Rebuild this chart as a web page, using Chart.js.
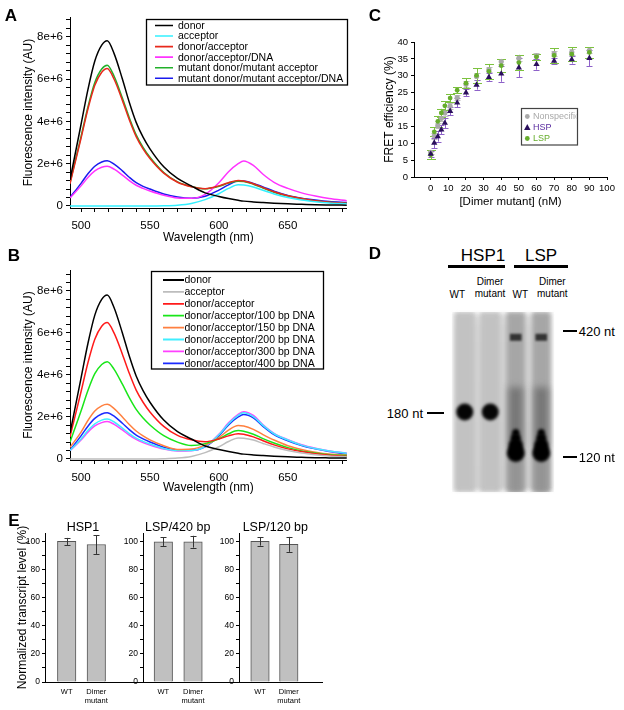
<!DOCTYPE html>
<html><head><meta charset="utf-8">
<script src="https://cdn.jsdelivr.net/npm/chart.js@4.4.1/dist/chart.umd.min.js"></script>
<style>
html,body{margin:0;padding:0;background:#fff;}
body{width:624px;height:710px;position:relative;overflow:hidden;font-family:"Liberation Sans",Arial,Helvetica,sans-serif;}
canvas{position:absolute;}
.t{position:absolute;white-space:nowrap;color:#000;line-height:1;}
.c{transform:translate(-50%,-50%);text-align:center;}
.l{transform:translate(0,-50%);}
.r{transform:translate(-100%,-50%);}
.rule{position:absolute;background:#000;}
</style></head><body>
<script>
// ---------------- DATA ----------------
// Panels A/B: emission spectra, wavelength (nm) and intensity (millions of AU)
const wl = [492,500,505,510,515,519,524,530,535,540,545,550,560,570,580,590,600,607,614,618,625,632,640,650,660,670,680,693];
const donor      = [1.23,3.85,5.50,6.85,7.60,7.81,7.20,6.00,4.90,3.95,3.25,2.70,1.85,1.30,0.95,0.62,0.45,0.35,0.27,0.23,0.19,0.16,0.13,0.10,0.08,0.06,0.05,0.04];
const acceptor   = [0,0,0,0,0,0,0,0,0,0,0,0,0.01,0.04,0.12,0.30,0.58,0.83,1.00,0.99,0.90,0.74,0.57,0.40,0.28,0.20,0.14,0.10];
const donAcc     = [1.05,3.20,4.58,5.70,6.32,6.50,5.99,4.99,4.08,3.28,2.70,2.24,1.55,1.12,0.91,0.82,0.95,1.10,1.20,1.18,1.05,0.87,0.67,0.48,0.35,0.25,0.18,0.13];
const donAccDNA  = [0.38,0.95,1.35,1.66,1.83,1.88,1.74,1.46,1.20,0.98,0.83,0.71,0.51,0.38,0.36,0.55,1.10,1.62,2.00,2.13,1.92,1.50,1.12,0.83,0.62,0.47,0.35,0.25];
const mutDonAcc  = [1.10,3.28,4.68,5.83,6.47,6.65,6.13,5.10,4.17,3.36,2.77,2.30,1.58,1.14,0.92,0.81,0.93,1.08,1.17,1.16,1.03,0.85,0.65,0.47,0.34,0.24,0.18,0.13];
const mutDonAccDNA=[0.40,1.07,1.52,1.88,2.08,2.14,1.98,1.66,1.36,1.10,0.93,0.80,0.57,0.42,0.36,0.46,0.75,1.00,1.18,1.18,1.07,0.90,0.70,0.50,0.37,0.28,0.21,0.16];
const dna100 = [0.80,2.28,3.26,4.06,4.50,4.63,4.27,3.56,2.92,2.36,1.95,1.62,1.11,0.80,0.64,0.73,0.96,1.20,1.35,1.32,1.18,0.97,0.76,0.54,0.38,0.28,0.20,0.16];
const dna150 = [0.55,1.28,1.83,2.28,2.53,2.60,2.40,2.00,1.64,1.33,1.10,0.91,0.63,0.45,0.47,0.66,1.02,1.37,1.59,1.57,1.41,1.16,0.90,0.63,0.45,0.32,0.23,0.19];
const dna200 = [0.40,0.95,1.35,1.67,1.85,1.90,1.76,1.47,1.21,0.99,0.84,0.71,0.50,0.40,0.40,0.60,1.15,1.68,2.08,2.20,2.02,1.60,1.20,0.90,0.66,0.50,0.38,0.27];
const dna300 = [0.40,0.90,1.27,1.57,1.73,1.78,1.65,1.38,1.14,0.93,0.78,0.66,0.47,0.38,0.39,0.60,1.17,1.72,2.12,2.25,2.07,1.63,1.22,0.92,0.68,0.51,0.38,0.28];
const dna400 = [0.42,1.10,1.56,1.93,2.14,2.20,2.04,1.70,1.40,1.14,0.96,0.81,0.56,0.43,0.41,0.58,1.10,1.62,2.00,2.12,1.96,1.55,1.16,0.87,0.64,0.48,0.35,0.24];
const specXLabels = [500,550,600,650];
const specYLabels = [0,2,4,6,8];
const seriesA = ['donor','acceptor','donor/acceptor','donor/acceptor/DNA','mutant donor/mutant acceptor','mutant donor/mutant acceptor/DNA'];
const seriesB = ['donor','acceptor','donor/acceptor','donor/acceptor/100 bp DNA','donor/acceptor/150 bp DNA','donor/acceptor/200 bp DNA','donor/acceptor/300 bp DNA','donor/acceptor/400 bp DNA'];

// Panel C: FRET efficiency (%) vs [Dimer mutant] (nM)
const dimerNM   = [0,2,4,6,8,11,15,20,26,33,40,50,60,70,80,90];
const nonspec   = [7.3,12.2,15.2,17.4,19.0,21.0,23.5,27.5,29.8,31.8,34.2,35.2,35.8,36.6,37.0,37.5];
const nonspecErr= [0.6,0.8,0.8,0.7,0.8,0.8,0.8,0.8,1.0,0.8,0.8,0.9,0.8,0.8,0.9,0.9];
const hsp       = [6.8,10.1,12.0,14.0,16.0,19.5,22.0,25.0,27.3,29.6,30.6,32.4,33.4,34.4,34.8,35.2];
const hspErr    = [1.0,1.6,1.5,1.4,1.6,1.2,1.3,1.1,1.4,1.1,2.4,2.8,1.6,0.9,1.2,2.4];
const lsp       = [6.6,13.4,16.5,19.0,21.1,23.4,25.7,27.8,30.1,31.3,33.0,33.9,35.6,36.0,36.4,36.9];
const lspErr    = [1.3,1.3,1.6,1.2,1.3,1.2,0.9,1.4,2.1,2.2,1.9,2.3,0.9,2.1,2.0,1.6];
const seriesC   = ['Nonspecific','HSP','LSP'];

// Panel D: gel lanes and bands (lane, migration % of gel length, spot radius)
const gelLanes    = ['HSP1 WT','HSP1 Dimer mutant','LSP WT','LSP Dimer mutant'];
const band180Lane = [0,1];  const band180Pos = [55.6,55.6]; const band180Size = [8.5,8.5];
const band120Lane = [2,3,2,3,2,3,2,3]; const band120Pos = [78.3,78.3,74,74,70,70,67,67]; const band120Size = [9,9,7,7,5,5,3.5,3.5];
const band420Pos  = [12.3,15.8];
const smearLSP    = [[42,76],[42,76]];
const smearLSPLow = [[80,100],[80,100]];

// Panel E: normalized transcript level (%)
const eCats = ['WT',['Dimer','mutant']];
const hsp1Val = [100,97.8],  hsp1Err = [2.5,6.7];
const lsp420Val = [99.8,99.8], lsp420Err = [3.0,4.2];
const lsp120Val = [100,97.9], lsp120Err = [3.0,5.3];

// ---------------- SETUP ----------------
const FF = '"Liberation Sans", Arial, Helvetica, sans-serif';
Chart.defaults.font.family = FF;
Chart.defaults.color = '#000';
Chart.defaults.animation = false;
Chart.defaults.events = [];
Chart.defaults.plugins.legend.display = false;
Chart.defaults.plugins.tooltip.enabled = false;

function mkCanvas(left, top, w, h) {
  const c = document.createElement('canvas');
  c.width = w; c.height = h;
  c.style.left = left + 'px'; c.style.top = top + 'px';
  c.style.width = w + 'px'; c.style.height = h + 'px';
  document.body.appendChild(c);
  return c;
}
function txt(s, x, y, cls, css) {
  const d = document.createElement('div');
  d.className = 't ' + cls;
  d.style.left = x + 'px'; d.style.top = y + 'px';
  Object.assign(d.style, css || {});
  d.innerHTML = s;
  document.body.appendChild(d);
}
function rule(x1, x2, y, h) {
  const d = document.createElement('div');
  d.className = 'rule';
  d.style.left = x1 + 'px'; d.style.width = (x2 - x1) + 'px';
  d.style.top = (y - h / 2) + 'px'; d.style.height = h + 'px';
  document.body.appendChild(d);
}
const range = (a, b, s) => { const r = []; for (let k = 0; a + k * s <= b + 1e-9; k++) r.push(Math.round((a + k * s) * 1000) / 1000); return r; };
const near = (v, list) => list.some(u => Math.abs(u - v) < 1e-6);

const axisGrid = (len) => ({display: true, drawOnChartArea: false, drawTicks: true, tickLength: len, color: '#000', tickColor: '#000', lineWidth: 1});
const axisBorder = {display: true, color: '#000', width: 1};

// legend drawn in a bordered box
const boxLegend = {
  id: 'boxLegend',
  afterDatasetsDraw(chart, args, o) {
    if (!o || o.x === undefined) return;
    const ctx = chart.ctx;
    ctx.save();
    ctx.fillStyle = '#fff';
    ctx.fillRect(o.x, o.y, o.w, o.h);
    ctx.lineWidth = o.bw; ctx.strokeStyle = o.bc;
    ctx.strokeRect(o.x, o.y, o.w, o.h);
    ctx.beginPath(); ctx.rect(o.x, o.y, o.w - 1, o.h); ctx.clip();
    ctx.font = o.size + 'px ' + FF;
    ctx.textBaseline = 'middle'; ctx.textAlign = 'left';
    chart.data.datasets.forEach((ds, i) => {
      const y = o.y0 + i * o.dy;
      if (o.marker) {
        ctx.fillStyle = ds.backgroundColor;
        ctx.beginPath();
        if (ds.pointStyle === 'triangle') {
          const r = 3.4;
          ctx.moveTo(o.mx, y - r); ctx.lineTo(o.mx + r * 0.95, y + r * 0.7); ctx.lineTo(o.mx - r * 0.95, y + r * 0.7); ctx.closePath();
        } else {
          ctx.arc(o.mx, y, 2.4, 0, Math.PI * 2);
        }
        ctx.fill();
        ctx.fillStyle = ds.legendText;
      } else {
        ctx.strokeStyle = ds.borderColor; ctx.lineWidth = o.lw;
        ctx.beginPath(); ctx.moveTo(o.lx1, y); ctx.lineTo(o.lx2, y); ctx.stroke();
        ctx.fillStyle = '#000';
      }
      ctx.fillText(ds.label, o.tx, y + 0.5);
    });
    ctx.restore();
  }
};

// error bars from dataset.err through the chart scales
const errBars = {
  id: 'errBars',
  beforeDatasetsDraw(chart, args, o) { if (o && o.under) drawErr(chart); },
  afterDatasetsDraw(chart, args, o) { if (!o || !o.under) drawErr(chart); }
};
function drawErr(chart) {
  const ctx = chart.ctx, xs = chart.scales.x, ys = chart.scales.y;
  ctx.save();
  chart.data.datasets.forEach(ds => {
    if (!ds.err) return;
    ctx.strokeStyle = ds.errColor; ctx.lineWidth = ds.errWidth || 1;
    ds.data.forEach((d, j) => {
      const x = Math.round(xs.getPixelForValue(d.x)) + 0.5;
      const y1 = ys.getPixelForValue(d.y + ds.err[j]);
      const y2 = ys.getPixelForValue(d.y - ds.err[j]);
      const c = ds.cap / 2;
      ctx.beginPath();
      ctx.moveTo(x, y1); ctx.lineTo(x, y2);
      ctx.moveTo(x - c, Math.round(y1) + 0.5); ctx.lineTo(x + c, Math.round(y1) + 0.5);
      ctx.moveTo(x - c, Math.round(y2) + 0.5); ctx.lineTo(x + c, Math.round(y2) + 0.5);
      ctx.stroke();
    });
  });
  ctx.restore();
}

// gel background and per-dataset blur
const blurPlug = {
  id: 'blurPlug',
  beforeDatasetsDraw(chart) {
    const {ctx, chartArea: a} = chart;
    ctx.save();
    ctx.filter = 'blur(2px)';
    const g = ctx.createLinearGradient(0, a.top, 0, a.bottom);
    g.addColorStop(0, '#e2e2e2'); g.addColorStop(0.1, '#d8d8d8'); g.addColorStop(1, '#d4d4d4');
    ctx.fillStyle = g;
    ctx.fillRect(a.left + 3, a.top + 2, a.width - 6, a.height - 4);
    ctx.restore();
  },
  beforeDatasetDraw(chart, args) {
    const b = chart.data.datasets[args.index].blur;
    chart.ctx.save();
    if (b) chart.ctx.filter = 'blur(' + b + 'px)';
  },
  afterDatasetDraw(chart) { chart.ctx.restore(); }
};

// ---------------- PANELS A & B ----------------
function spectrum(cv, names, colors, values, o) {
  return new Chart(cv, {
    type: 'line',
    data: {datasets: names.map((n, i) => ({
      label: n, data: wl.map((x, j) => ({x: x, y: values[i][j]})),
      borderColor: colors[i], backgroundColor: colors[i], borderWidth: 1.5,
      pointRadius: 0, cubicInterpolationMode: 'monotone', fill: false
    }))},
    options: {
      responsive: false, maintainAspectRatio: false,
      layout: {padding: {left: 0, top: o.top, right: o.right, bottom: 0}},
      scales: {
        x: {type: 'linear', min: 492, max: 692.75,
          afterFit: s => { s.height = o.xh; },
          afterBuildTicks: s => { s.ticks = range(500, 690, 10).map(v => ({value: v})); },
          ticks: {autoSkip: false, maxRotation: 0, padding: 7, font: {size: 11.5},
            callback: v => near(v, specXLabels) ? String(v) : ''},
          grid: axisGrid(4), border: axisBorder,
          title: {display: true, text: 'Wavelength (nm)', font: {size: 12}, padding: {top: 0, bottom: 3}}},
        y: {type: 'linear', min: o.ymin, max: o.ymax,
          afterFit: s => { s.width = 70; },
          afterBuildTicks: s => { s.ticks = range(0, 8.8, 0.4).map(v => ({value: v})); },
          ticks: {autoSkip: false, padding: 3, font: {size: 11.5},
            callback: v => near(v, specYLabels) ? (Math.abs(v) < 1e-9 ? '0' : Math.round(v) + 'e+6') : ''},
          grid: axisGrid(4), border: axisBorder,
          title: {display: true, text: 'Fluorescence intensity (AU)', font: {size: 12}, padding: {top: 21, bottom: 0}}}
      },
      plugins: {boxLegend: o.legend}
    },
    plugins: [boxLegend]
  });
}

spectrum(mkCanvas(0, 0, 350, 248), seriesA,
  ['#000000', '#33f0ff', '#e8291c', '#ff33ff', '#22b02a', '#1a1aee'],
  [donor, acceptor, donAcc, donAccDNA, mutDonAcc, mutDonAccDNA],
  {top: 17, right: 3, xh: 40, ymin: -0.095, ymax: 8.93,
   legend: {x: 146.5, y: 19.5, w: 201, h: 65.5, bw: 1.3, bc: '#000', size: 10.5, y0: 25.5, dy: 10.55, lx1: 155, lx2: 173, lw: 1.6, tx: 178}});

spectrum(mkCanvas(0, 250, 350, 248), seriesB,
  ['#000000', '#bdbdbd', '#ff1a1a', '#19e619', '#ff8040', '#40eeff', '#ff40ff', '#1a2aff'],
  [donor, acceptor, donAcc, dna100, dna150, dna200, dna300, dna400],
  {top: 20, right: 3, xh: 38, ymin: -0.05, ymax: 9.0,
   legend: {x: 151.5, y: 21.5, w: 172, h: 97.5, bw: 1.3, bc: '#000', size: 10.5, y0: 30, dy: 11.9, lx1: 163, lx2: 184, lw: 1.8, tx: 184.5}});

// ---------------- PANEL C ----------------
new Chart(mkCanvas(350, 0, 274, 215), {
  type: 'scatter',
  data: {datasets: [
    {label: seriesC[0], data: dimerNM.map((x, j) => ({x: x, y: nonspec[j]})), err: nonspecErr, errColor: '#bdbdbd', cap: 6,
     pointStyle: 'circle', pointRadius: 2.6, backgroundColor: '#a9a9a9', borderWidth: 0, legendText: '#a9a9a9', order: 3},
    {label: seriesC[1], data: dimerNM.map((x, j) => ({x: x, y: hsp[j]})), err: hspErr, errColor: '#8e62c9', cap: 6,
     pointStyle: 'triangle', pointRadius: 3.6, backgroundColor: '#2a0f5c', borderWidth: 0, legendText: '#5b2ea0', order: 1},
    {label: seriesC[2], data: dimerNM.map((x, j) => ({x: x, y: lsp[j]})), err: lspErr, errColor: '#7cc23e', cap: 9,
     pointStyle: 'circle', pointRadius: 2.4, backgroundColor: '#66ad2c', borderWidth: 0, legendText: '#66ad2c', order: 2}
  ]},
  options: {
    responsive: false, maintainAspectRatio: false,
    layout: {padding: {left: 0, top: 42, right: 17, bottom: 0}},
    scales: {
      x: {type: 'linear', min: -9.5, max: 100,
        afterFit: s => { s.height = 38; },
        afterBuildTicks: s => { s.ticks = range(0, 100, 10).map(v => ({value: v})); },
        ticks: {autoSkip: false, maxRotation: 0, padding: 3, font: {size: 9.5}},
        grid: axisGrid(3), border: axisBorder,
        title: {display: true, text: '[Dimer mutant] (nM)', font: {size: 11.5}, padding: {top: 0, bottom: 6.4}}},
      y: {type: 'linear', min: 0, max: 40,
        afterFit: s => { s.width = 64; },
        afterBuildTicks: s => { s.ticks = range(0, 40, 5).map(v => ({value: v})); },
        ticks: {autoSkip: false, padding: 3, font: {size: 9.5}},
        grid: axisGrid(3), border: axisBorder,
        title: {display: true, text: 'FRET efficiency (%)', font: {size: 12}, padding: {top: 32, bottom: 0}}}
    },
    plugins: {
      errBars: {under: true},
      boxLegend: {x: 171.5, y: 108.5, w: 56, h: 36.5, bw: 1.2, bc: '#444', size: 9, y0: 116.5, dy: 11, marker: true, mx: 177.3, tx: 183}
    }
  },
  plugins: [errBars, boxLegend]
});

// ---------------- PANEL D (gel) ----------------
const full = [0, 100];
const gelPts = (lanes, pos, size) => lanes.map((l, j) => ({x: gelLanes[l], y: pos[j], r: size[j]}));
new Chart(mkCanvas(443, 303, 120, 198), {
  type: 'bar',
  data: {labels: gelLanes, datasets: [
    {type: 'bar', data: [full, full, null, null], backgroundColor: '#c2c2c2', barThickness: 20, blur: 2.5, order: 7},
    {type: 'bar', data: [null, null, full, full], backgroundColor: '#a6a6a6', barThickness: 18, blur: 2.5, order: 6},
    {type: 'bar', data: [null, null].concat(smearLSP), backgroundColor: '#767676', barThickness: 13, blur: 3.5, order: 5},
    {type: 'bar', data: [null, null].concat(smearLSPLow), backgroundColor: '#939393', barThickness: 12, blur: 3, order: 4},
    {type: 'bar', data: [null, null, band420Pos, band420Pos], backgroundColor: '#333333', barThickness: 11, blur: 1.2, order: 3},
    {type: 'bubble', data: gelPts(band180Lane, band180Pos, band180Size), backgroundColor: '#050505', borderWidth: 0, blur: 1.8, order: 2},
    {type: 'bubble', data: gelPts(band120Lane, band120Pos, band120Size), backgroundColor: '#000000', borderWidth: 0, blur: 1.6, order: 1}
  ]},
  options: {
    responsive: false, maintainAspectRatio: false,
    layout: {padding: 0},
    datasets: {bar: {grouped: false}},
    scales: {
      x: {type: 'category', display: false, offset: true, grid: {offset: true}},
      y: {type: 'linear', display: false, min: 0, max: 100, reverse: true}
    },
    plugins: {}
  },
  plugins: [blurPlug]
});

// ---------------- PANEL E ----------------
function barPanel(left, width, areaLeft, areaRightPad, vals, errs, xmin, xmax, withTitle) {
  return new Chart(mkCanvas(left, 506, width, 204), {
    type: 'bar',
    data: {datasets: [{
      data: vals.map((v, j) => ({x: j + 1, y: v})), err: errs, errColor: '#333', cap: 6,
      backgroundColor: '#c0c0c0', borderColor: '#555', borderWidth: 1, barThickness: 18.5, borderSkipped: 'bottom'
    }]},
    options: {
      responsive: false, maintainAspectRatio: false,
      layout: {padding: {left: 0, top: 27, right: areaRightPad, bottom: 0}},
      scales: {
        x: {type: 'linear', min: xmin, max: xmax, offset: false,
          afterFit: s => { s.height = 28; },
          afterBuildTicks: s => { s.ticks = eCats.map((c, j) => ({value: j + 1})); },
          ticks: {autoSkip: false, maxRotation: 0, padding: 5, font: {size: 7.5, lineHeight: 1.25},
            callback: v => eCats[Math.round(v) - 1]},
          grid: {display: true, drawOnChartArea: false, drawTicks: false, color: '#000'}, border: axisBorder},
        y: {type: 'linear', min: 0, max: 106,
          afterFit: s => { s.width = areaLeft; },
          afterBuildTicks: s => { s.ticks = range(0, 100, 10).map(v => ({value: v})); },
          ticks: {autoSkip: false, padding: 2, font: {size: 8.5}, callback: v => (Math.round(v) % 20 === 0 ? String(v) : '')},
          grid: axisGrid(3), border: axisBorder,
          title: {display: withTitle, text: 'Normalized transcript level (%)', font: {size: 12}, padding: {top: 15.5, bottom: 0}}}
      },
      plugins: {errBars: {under: false}}
    },
    plugins: [errBars]
  });
}
barPanel(0, 150, 45, 7, hsp1Val, hsp1Err, 0.267, 3.578, true);
barPanel(100, 150, 43, 11, lsp420Val, lsp420Err, 0.316, 3.548, false);
barPanel(196, 140, 43, 14, lsp120Val, lsp120Err, 0.271, 3.153, false);

// ---------------- TEXT OVERLAYS ----------------
const bold = {fontWeight: 'bold', fontSize: '17px'};
txt('A', 11, 15, 'c', bold);
txt('B', 14, 255, 'c', bold);
txt('C', 375, 15, 'c', bold);
txt('D', 375, 253, 'c', bold);
txt('E', 14, 520, 'c', bold);

txt('HSP1', 483, 255, 'c', {fontSize: '17px'});
txt('LSP', 541, 255, 'c', {fontSize: '17px'});
rule(447.7, 505, 266.3, 3);
rule(514, 568, 266.3, 3);
const lane = {fontSize: '10px', lineHeight: '12.7px'};
txt('WT', 457.3, 295, 'c', lane);
txt('Dimer<br>mutant', 490, 288.7, 'c', lane);
txt('WT', 520.3, 295, 'c', lane);
txt('Dimer<br>mutant', 552.3, 288.7, 'c', lane);
const nt = {fontSize: '13px'};
txt('180 nt', 423, 413.3, 'r', nt);
rule(426.7, 444.3, 413.3, 2);
rule(563, 577, 331, 2);
txt('420 nt', 578.7, 331, 'l', nt);
rule(563, 577, 456.7, 2);
txt('120 nt', 578.7, 456.7, 'l', nt);

const et = {fontSize: '12.5px'};
txt('HSP1', 83, 526.7, 'c', et);
txt('LSP/420 bp', 177.7, 526.7, 'c', et);
txt('LSP/120 bp', 275.3, 526.7, 'c', et);
</script>
</body></html>
